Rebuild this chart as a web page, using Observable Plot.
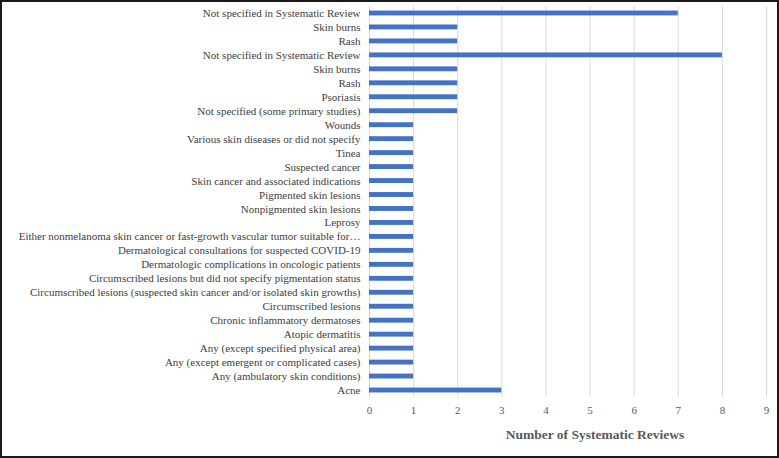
<!DOCTYPE html>
<html>
<head>
<meta charset="utf-8">
<script src="https://cdn.jsdelivr.net/npm/d3@7"></script>
<script src="https://cdn.jsdelivr.net/npm/@observablehq/plot@0.6"></script>
<style>
  html, body { margin: 0; padding: 0; background: #fff; }
  #frame { box-sizing: border-box; width: 779px; height: 458px; border: 2px solid #1a1a1a; overflow: hidden; background: #fff; }
  #frame svg { display: block; font-family: "Liberation Serif", "Times New Roman", serif; }
</style>
</head>
<body>
<div id="frame"></div>
<script>
const categories = [
  "Not specified in Systematic Review",
  "Skin burns",
  "Rash",
  "Not specified in Systematic Review",
  "Skin burns",
  "Rash",
  "Psoriasis",
  "Not specified (some primary studies)",
  "Wounds",
  "Various skin diseases or did not specify",
  "Tinea",
  "Suspected cancer",
  "Skin cancer and associated indications",
  "Pigmented skin lesions",
  "Nonpigmented skin lesions",
  "Leprosy",
  "Either nonmelanoma skin cancer or fast-growth vascular tumor suitable for…",
  "Dermatological consultations for suspected COVID-19",
  "Dermatologic complications in oncologic patients",
  "Circumscribed lesions but did not specify pigmentation status",
  "Circumscribed lesions (suspected skin cancer and/or isolated skin growths)",
  "Circumscribed lesions",
  "Chronic inflammatory dermatoses",
  "Atopic dermatitis",
  "Any (except specified physical area)",
  "Any (except emergent or complicated cases)",
  "Any (ambulatory skin conditions)",
  "Acne"
];
const values = [7, 2, 2, 8, 2, 2, 2, 2, 1, 1, 1, 1, 1, 1, 1, 1, 1, 1, 1, 1, 1, 1, 1, 1, 1, 1, 1, 3];
const xTicks = [0, 1, 2, 3, 4, 5, 6, 7, 8, 9];
const xTitle = "Number of Systematic Reviews";

const data = categories.map((c, i) => ({key: i, label: c, value: values[i]}));

const chart = Plot.plot({
  width: 775,
  height: 454,
  marginLeft: 367,
  marginRight: 11,
  marginTop: 4,
  marginBottom: 59,
  style: {fontSize: "11px", color: "#404040", background: "#fff"},
  x: {domain: [0, 9], ticks: xTicks, label: null},
  y: {domain: data.map(d => d.key), paddingInner: 0.65, paddingOuter: 0.325, round: false, label: null},
  marks: [
    Plot.gridX(xTicks, {stroke: "#d9d9d9", strokeOpacity: 1, strokeWidth: 1}),
    Plot.barX(data, {y: "key", x: "value", fill: "#4472C4"}),
    Plot.axisY({tickSize: 0, tickPadding: 9, tickFormat: i => categories[i], fill: "#404040", fontSize: 11, label: null}),
    Plot.axisX(xTicks, {tickSize: 0, tickPadding: 9, fill: "#595959", fontSize: 11, label: null}),
    Plot.text([xTitle], {frameAnchor: "bottom", dx: 27, dy: 41, text: d => d, fontWeight: "bold", fontSize: 13.5, fill: "#595959"})
  ]
});
document.getElementById("frame").appendChild(chart);
</script>
</body>
</html>
